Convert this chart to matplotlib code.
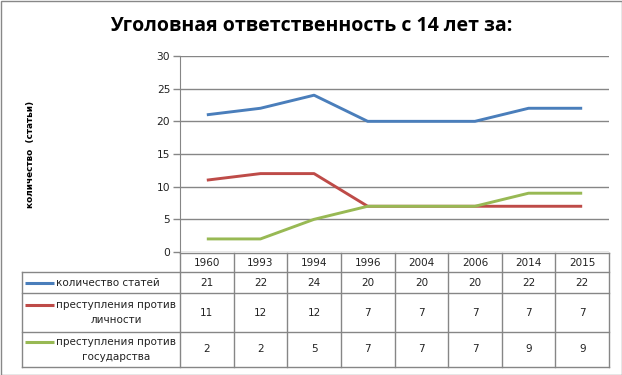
import matplotlib
matplotlib.use("Agg")
import matplotlib.pyplot as plt
from matplotlib.patches import Rectangle

years = ["1960", "1993", "1994", "1996", "2004", "2006", "2014", "2015"]
total_articles = [21, 22, 24, 20, 20, 20, 22, 22]
against_person = [11, 12, 12, 7, 7, 7, 7, 7]
against_state = [2, 2, 5, 7, 7, 7, 9, 9]

series_names = ["количество статей",
                "преступления против\nличности",
                "преступления против\nгосударства"]
series_values = [total_articles, against_person, against_state]
series_colors = ["#4A7EBB", "#BE4B48", "#98B954"]

W, H = 622, 375
grid_c = "#868686"
text_c = "#222222"

fig = plt.figure(figsize=(W / 100, H / 100), dpi=100)

# plot area in pixels
left, right, top, bottom = 180, 609, 56, 252
ax = fig.add_axes([left / W, 1 - bottom / H, (right - left) / W, (bottom - top) / H])

x = list(range(len(years)))
for vals, col in zip(series_values, series_colors):
    ax.plot(x, vals, color=col, linewidth=2.1, solid_capstyle="butt")

ax.set_xlim(-0.5, len(years) - 0.5)
ax.set_ylim(0, 30)
ax.set_yticks(range(0, 31, 5))
ax.set_xticks([])
ax.yaxis.grid(True, color=grid_c, linewidth=1)
ax.set_axisbelow(True)
for s in ["top", "right", "bottom"]:
    ax.spines[s].set_visible(False)
ax.spines["left"].set_color(grid_c)
ax.tick_params(axis="y", colors=grid_c, length=5, width=1, labelsize=7.7,
               labelcolor=text_c, pad=2)

# overlay in pixel coords for title, label and data table
ov = fig.add_axes([0, 0, 1, 1], zorder=-1)
ov.set_xlim(0, W)
ov.set_ylim(H, 0)
ov.axis("off")

ov.add_patch(Rectangle((0.5, 0.5), W - 1, H - 1, fill=False, edgecolor="#888888", lw=1))

ov.text(W / 2, 26, "Уголовная ответственность с 14 лет за:", ha="center", va="center",
        fontsize=14, fontweight="bold", family="Open Sans", color="black")
ov.text(30, 154, "количество  (статьи)", rotation=90, ha="center", va="center",
        fontsize=6.4, fontweight="bold", color="black")

# data table
cw = (right - left) / len(years)
rows = [253, 272, 293, 332, 367]
lab_left = 22
ov.plot([left, right], [rows[0], rows[0]], color=grid_c, lw=1)
for r in rows[1:]:
    ov.plot([lab_left, right], [r, r], color=grid_c, lw=1)
for i in range(len(years) + 1):
    ov.plot([left + i * cw] * 2, [rows[0], rows[-1]], color=grid_c, lw=1)
ov.plot([lab_left, lab_left], [rows[1], rows[-1]], color=grid_c, lw=1)

for i, yr in enumerate(years):
    ov.text(left + (i + 0.5) * cw, (rows[0] + rows[1]) / 2, yr, ha="center", va="center",
            fontsize=7.5, color=text_c)

for k, (name, vals, col) in enumerate(zip(series_names, series_values, series_colors)):
    y0, y1 = rows[k + 1], rows[k + 2]
    yc = (y0 + y1) / 2
    nlines = name.count("\n") + 1
    key_y = yc if nlines == 1 else yc - 8
    ov.plot([25, 54], [key_y, key_y], color=col, lw=2.2, solid_capstyle="butt")
    if nlines == 1:
        ov.text(56, yc, name, ha="left", va="center", fontsize=7.5, color=text_c)
    else:
        ov.text(116, yc, name, ha="center", va="center", fontsize=7.5, color=text_c,
                linespacing=1.6)
    for i, v in enumerate(vals):
        ov.text(left + (i + 0.5) * cw, yc, str(v), ha="center", va="center",
                fontsize=7.5, color=text_c)

fig.savefig("out.png", dpi=100)
